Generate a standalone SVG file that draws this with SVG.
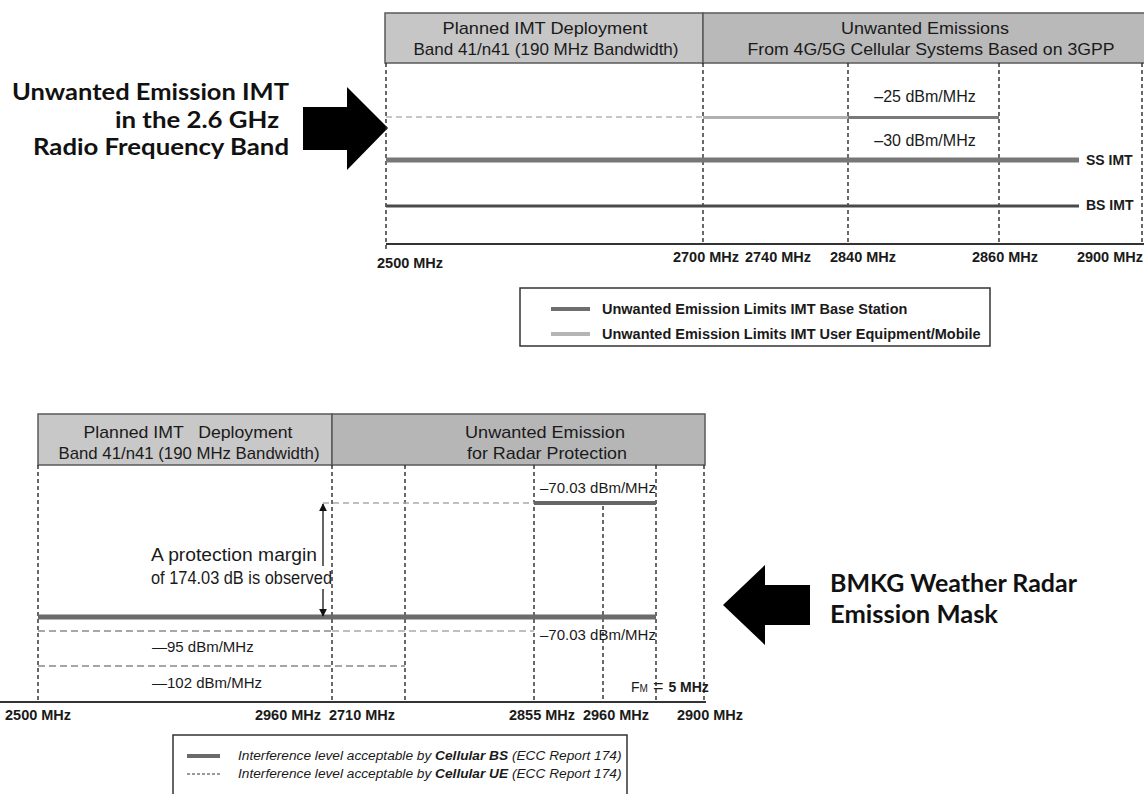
<svg xmlns="http://www.w3.org/2000/svg" width="1144" height="794" viewBox="0 0 1144 794">
<defs>
<marker id="ah" viewBox="0 0 10 10" refX="9" refY="5" markerWidth="6" markerHeight="6" orient="auto"><path d="M0,0 L10,5 L0,10 z" fill="#111"/></marker>
</defs>
<style>
.t{font-family:"Liberation Sans",Arial,sans-serif;fill:#1a1a1a}
.hdr{font-size:17px;text-anchor:middle}
.big{font-family:Lato,"Open Sans",sans-serif;font-weight:700;font-size:23px;fill:#111}
.vd{stroke:#2a2a2a;stroke-width:1.4;stroke-dasharray:4 3;fill:none}
.axis{stroke:#333;stroke-width:2}
.lbl{font-size:14.5px;font-weight:700}
.mid{text-anchor:middle}
.val{font-size:15px}
.hbox{stroke:#5a5a5a;stroke-width:1.5}
.lg{fill:#fff;stroke:#333;stroke-width:1.5}
</style>
<rect width="1144" height="794" fill="#fff"/>

<g id="left-title">
<text class="big" x="289" y="100" text-anchor="end" textLength="277" lengthAdjust="spacingAndGlyphs">Unwanted Emission IMT</text>
<text class="big" x="279" y="127.7" text-anchor="end" textLength="164" lengthAdjust="spacingAndGlyphs">in the 2.6 GHz</text>
<text class="big" x="289" y="155.4" text-anchor="end" textLength="256" lengthAdjust="spacingAndGlyphs">Radio Frequency Band</text>
</g>
<g id="left-arrow">
<polygon points="303,107 347,107 347,87 388,128 347,170 347,150 303,150" fill="#000"/>
</g>

<g id="top-header">
<rect class="hbox" x="385" y="13" width="318" height="50" fill="#c6c6c6"/>
<rect class="hbox" x="703" y="13" width="442" height="50" fill="#b9b9b9"/>
<text class="t hdr" x="545" y="34" textLength="205" lengthAdjust="spacingAndGlyphs">Planned IMT Deployment</text>
<text class="t hdr" x="546" y="55" textLength="265" lengthAdjust="spacingAndGlyphs">Band 41/n41 (190 MHz Bandwidth)</text>
<text class="t hdr" x="925" y="34" textLength="168" lengthAdjust="spacingAndGlyphs">Unwanted Emissions</text>
<text class="t hdr" x="931" y="55" textLength="367" lengthAdjust="spacingAndGlyphs">From 4G/5G Cellular Systems Based on 3GPP</text>
</g>

<g id="top-chart">
<line class="vd" x1="386" y1="63" x2="386" y2="252"/>
<line class="vd" x1="703" y1="63" x2="703" y2="244"/>
<line class="vd" x1="848" y1="63" x2="848" y2="244"/>
<line class="vd" x1="999" y1="63" x2="999" y2="244"/>
<line class="vd" x1="1142" y1="63" x2="1142" y2="244"/>
<line class="axis" x1="386" y1="244" x2="1144" y2="244"/>
<line x1="386" y1="117" x2="703" y2="117" stroke="#b5b5b5" stroke-width="1.5" stroke-dasharray="6 4"/>
<line x1="703" y1="117.5" x2="848" y2="117.5" stroke="#b0b0b0" stroke-width="3"/>
<line x1="848" y1="117.5" x2="999" y2="117.5" stroke="#7a7a7a" stroke-width="3"/>
<line x1="386" y1="160" x2="1079" y2="160" stroke="#777" stroke-width="5"/>
<line x1="386" y1="206" x2="1079" y2="206" stroke="#4a4a4a" stroke-width="3"/>
<text class="t" x="925" y="102" font-size="16" text-anchor="middle">–25 dBm/MHz</text>
<text class="t" x="925" y="146" font-size="16" text-anchor="middle">–30 dBm/MHz</text>
<text class="t" x="1086" y="165" font-size="14" font-weight="700">SS IMT</text>
<text class="t" x="1086" y="210" font-size="14" font-weight="700">BS IMT</text>
<text class="t lbl" x="377" y="268">2500 MHz</text>
<text class="t lbl mid" x="706" y="262">2700 MHz</text>
<text class="t lbl mid" x="778" y="262">2740 MHz</text>
<text class="t lbl mid" x="863" y="262">2840 MHz</text>
<text class="t lbl mid" x="1005" y="262">2860 MHz</text>
<text class="t lbl" x="1143" y="262" text-anchor="end">2900 MHz</text>
</g>

<g id="top-legend">
<rect class="lg" x="520" y="288" width="470" height="58"/>
<line x1="551" y1="309" x2="590" y2="309" stroke="#6e6e6e" stroke-width="4"/>
<line x1="551" y1="334" x2="590" y2="334" stroke="#b5b5b5" stroke-width="4"/>
<text class="t" x="602" y="314" font-size="14.5" font-weight="700">Unwanted Emission Limits IMT Base Station</text>
<text class="t" x="602" y="339" font-size="14.5" font-weight="700">Unwanted Emission Limits IMT User Equipment/Mobile</text>
</g>

<g id="bottom-header">
<rect class="hbox" x="38" y="414" width="294" height="51" fill="#c8c8c8"/>
<rect class="hbox" x="332" y="414" width="373" height="51" fill="#b6b6b6"/>
<text class="t hdr" x="188" y="438" textLength="209" lengthAdjust="spacingAndGlyphs" xml:space="preserve">Planned IMT   Deployment</text>
<text class="t hdr" x="189" y="459" textLength="261" lengthAdjust="spacingAndGlyphs">Band 41/n41 (190 MHz Bandwidth)</text>
<text class="t hdr" x="545" y="438" textLength="160" lengthAdjust="spacingAndGlyphs">Unwanted Emission</text>
<text class="t hdr" x="547" y="459" textLength="160" lengthAdjust="spacingAndGlyphs">for Radar Protection</text>
</g>

<g id="bottom-chart">
<line class="vd" x1="38" y1="465" x2="38" y2="702"/>
<line class="vd" x1="332" y1="465" x2="332" y2="702"/>
<line class="vd" x1="405" y1="465" x2="405" y2="702"/>
<line class="vd" x1="534" y1="465" x2="534" y2="702"/>
<line class="vd" x1="603" y1="506" x2="603" y2="702"/>
<line class="vd" x1="656" y1="465" x2="656" y2="702"/>
<line class="vd" x1="704" y1="465" x2="704" y2="702"/>
<line class="axis" x1="0" y1="702" x2="706" y2="702"/>
<line x1="323" y1="503" x2="534" y2="503" stroke="#aaa" stroke-width="1.5" stroke-dasharray="6 4"/>
<line x1="534" y1="503" x2="656" y2="503" stroke="#666" stroke-width="4"/>
<line x1="38" y1="617" x2="656" y2="617" stroke="#6b6b6b" stroke-width="5"/>
<line x1="38" y1="631" x2="332" y2="631" stroke="#8a8a8a" stroke-width="1.5" stroke-dasharray="7 4"/>
<line x1="332" y1="631" x2="534" y2="631" stroke="#ababab" stroke-width="1.5" stroke-dasharray="7 4"/>
<line x1="38" y1="666" x2="405" y2="666" stroke="#888" stroke-width="1.5" stroke-dasharray="7 4"/>
<text class="t val" x="540" y="493">–70.03 dBm/MHz</text>
<text class="t val" x="540" y="640">–70.03 dBm/MHz</text>
<text class="t val" x="152" y="652">—95 dBm/MHz</text>
<text class="t val" x="152" y="688">—102 dBm/MHz</text>
<text class="t" x="151" y="561" font-size="17.5" textLength="166" lengthAdjust="spacingAndGlyphs">A protection margin</text>
<text class="t" x="151" y="584" font-size="17.5" textLength="181" lengthAdjust="spacingAndGlyphs">of 174.03 dB is observed</text>
<text class="t" x="631" y="692" font-size="14">F<tspan font-size="10">M</tspan><tspan font-size="18"> = </tspan><tspan font-weight="700">5 MHz</tspan></text>
<text class="t lbl" x="5" y="720">2500 MHz</text>
<text class="t lbl mid" x="288" y="720">2960 MHz</text>
<text class="t lbl mid" x="362" y="720">2710 MHz</text>
<text class="t lbl mid" x="542" y="720">2855 MHz</text>
<text class="t lbl mid" x="616" y="720">2960 MHz</text>
<text class="t lbl mid" x="710" y="720">2900 MHz</text>
</g>

<g id="connectors">
<line x1="323" y1="566" x2="323" y2="504" stroke="#111" stroke-width="1.3" marker-end="url(#ah)"/>
<line x1="323" y1="589" x2="323" y2="616" stroke="#111" stroke-width="1.3" marker-end="url(#ah)"/>
</g>

<g id="right-arrow">
<polygon points="723,605 765,565 765,585 810,585 810,625 765,625 765,645" fill="#000"/>
</g>
<g id="right-title">
<text class="big" x="830" y="592" style="font-size:24px" textLength="247" lengthAdjust="spacingAndGlyphs">BMKG Weather Radar</text>
<text class="big" x="830" y="623" style="font-size:24px" textLength="168" lengthAdjust="spacingAndGlyphs">Emission Mask</text>
</g>

<g id="bottom-legend">
<rect class="lg" x="173" y="735" width="454" height="70"/>
<line x1="187" y1="756" x2="220" y2="756" stroke="#6a6a6a" stroke-width="4"/>
<line x1="187" y1="774" x2="220" y2="774" stroke="#999" stroke-width="2" stroke-dasharray="3 2"/>
<text class="t" x="238" y="760" font-size="13.7" font-style="italic">Interference level acceptable by <tspan font-weight="700">Cellular BS</tspan> (ECC Report 174)</text>
<text class="t" x="238" y="778" font-size="13.7" font-style="italic">Interference level acceptable by <tspan font-weight="700">Cellular UE</tspan> (ECC Report 174)</text>
</g>
</svg>
